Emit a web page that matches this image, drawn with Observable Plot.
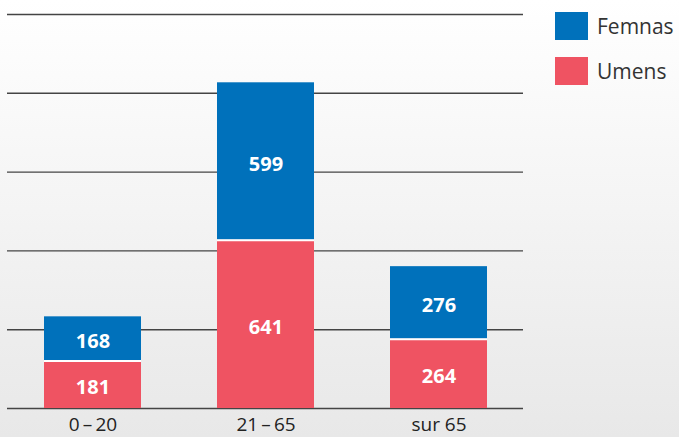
<!DOCTYPE html>
<html>
<head>
<meta charset="utf-8">
<script src="https://cdn.jsdelivr.net/npm/d3@7"></script>
<script src="https://cdn.jsdelivr.net/npm/@observablehq/plot@0.6"></script>
<style>
  html, body { margin: 0; padding: 0; }
  body {
    width: 679px; height: 437px; overflow: hidden; position: relative;
    background: linear-gradient(#ffffff, #e8e8e8);
    font-family: "Open Sans", sans-serif;
  }
  #legend { position: absolute; left: 555px; top: 12px; }
  .item { display: flex; align-items: center; height: 28px; margin-bottom: 17px; }
  .sw { width: 33px; height: 28px; margin-right: 9px; flex: none; }
  .lab { font-size: 21px; color: #333; white-space: nowrap; }
</style>
</head>
<body>
<div id="chart"></div>
<div id="legend"></div>
<script>
const categories = ["0\u2009–\u200920", "21\u2009–\u200965", "sur 65"];
const umens = [181, 641, 264];
const femnas = [168, 599, 276];
const series = ["Umens", "Femnas"];
const colors = ["#ef5362", "#0071bb"];
const yTicks = [0, 300, 600, 900, 1200, 1500];

const data = [];
categories.forEach((c, i) => {
  data.push({age: c, sex: "Umens", value: umens[i]});
  data.push({age: c, sex: "Femnas", value: femnas[i]});
});
const umensData = data.filter(d => d.sex === "Umens");

const plot = Plot.plot({
  width: 679,
  height: 437,
  marginLeft: 7,
  marginRight: 156,
  marginTop: 14,
  marginBottom: 29,
  style: {background: "transparent", fontFamily: "Open Sans, sans-serif"},
  x: {domain: categories, paddingInner: 0.44, paddingOuter: 0.21, label: null},
  y: {domain: [0, 1500], axis: null},
  color: {domain: series, range: colors},
  marks: [
    Plot.ruleY(yTicks, {stroke: "#444", strokeWidth: 1.4}),
    Plot.barY(data, {x: "age", y: "value", fill: "sex", order: series}),
    Plot.tickY(umensData, {x: "age", y: "value", stroke: "white", strokeWidth: 2}),
    Plot.text(data, Plot.stackY({x: "age", y: "value", z: "sex", order: series, text: d => String(d.value),
      fill: "white", fontWeight: "bold", fontSize: 20, dy: 3})),
    Plot.axisX({tickSize: 0, tickPadding: 9, fontSize: 19, color: "#222"})
  ]
});
document.getElementById("chart").appendChild(plot);

const legend = document.getElementById("legend");
[["Femnas", colors[1]], ["Umens", colors[0]]].forEach(([name, col]) => {
  const it = document.createElement("div");
  it.className = "item";
  it.innerHTML = `<div class="sw" style="background:${col}"></div><div class="lab">${name}</div>`;
  legend.appendChild(it);
});
</script>
</body>
</html>
